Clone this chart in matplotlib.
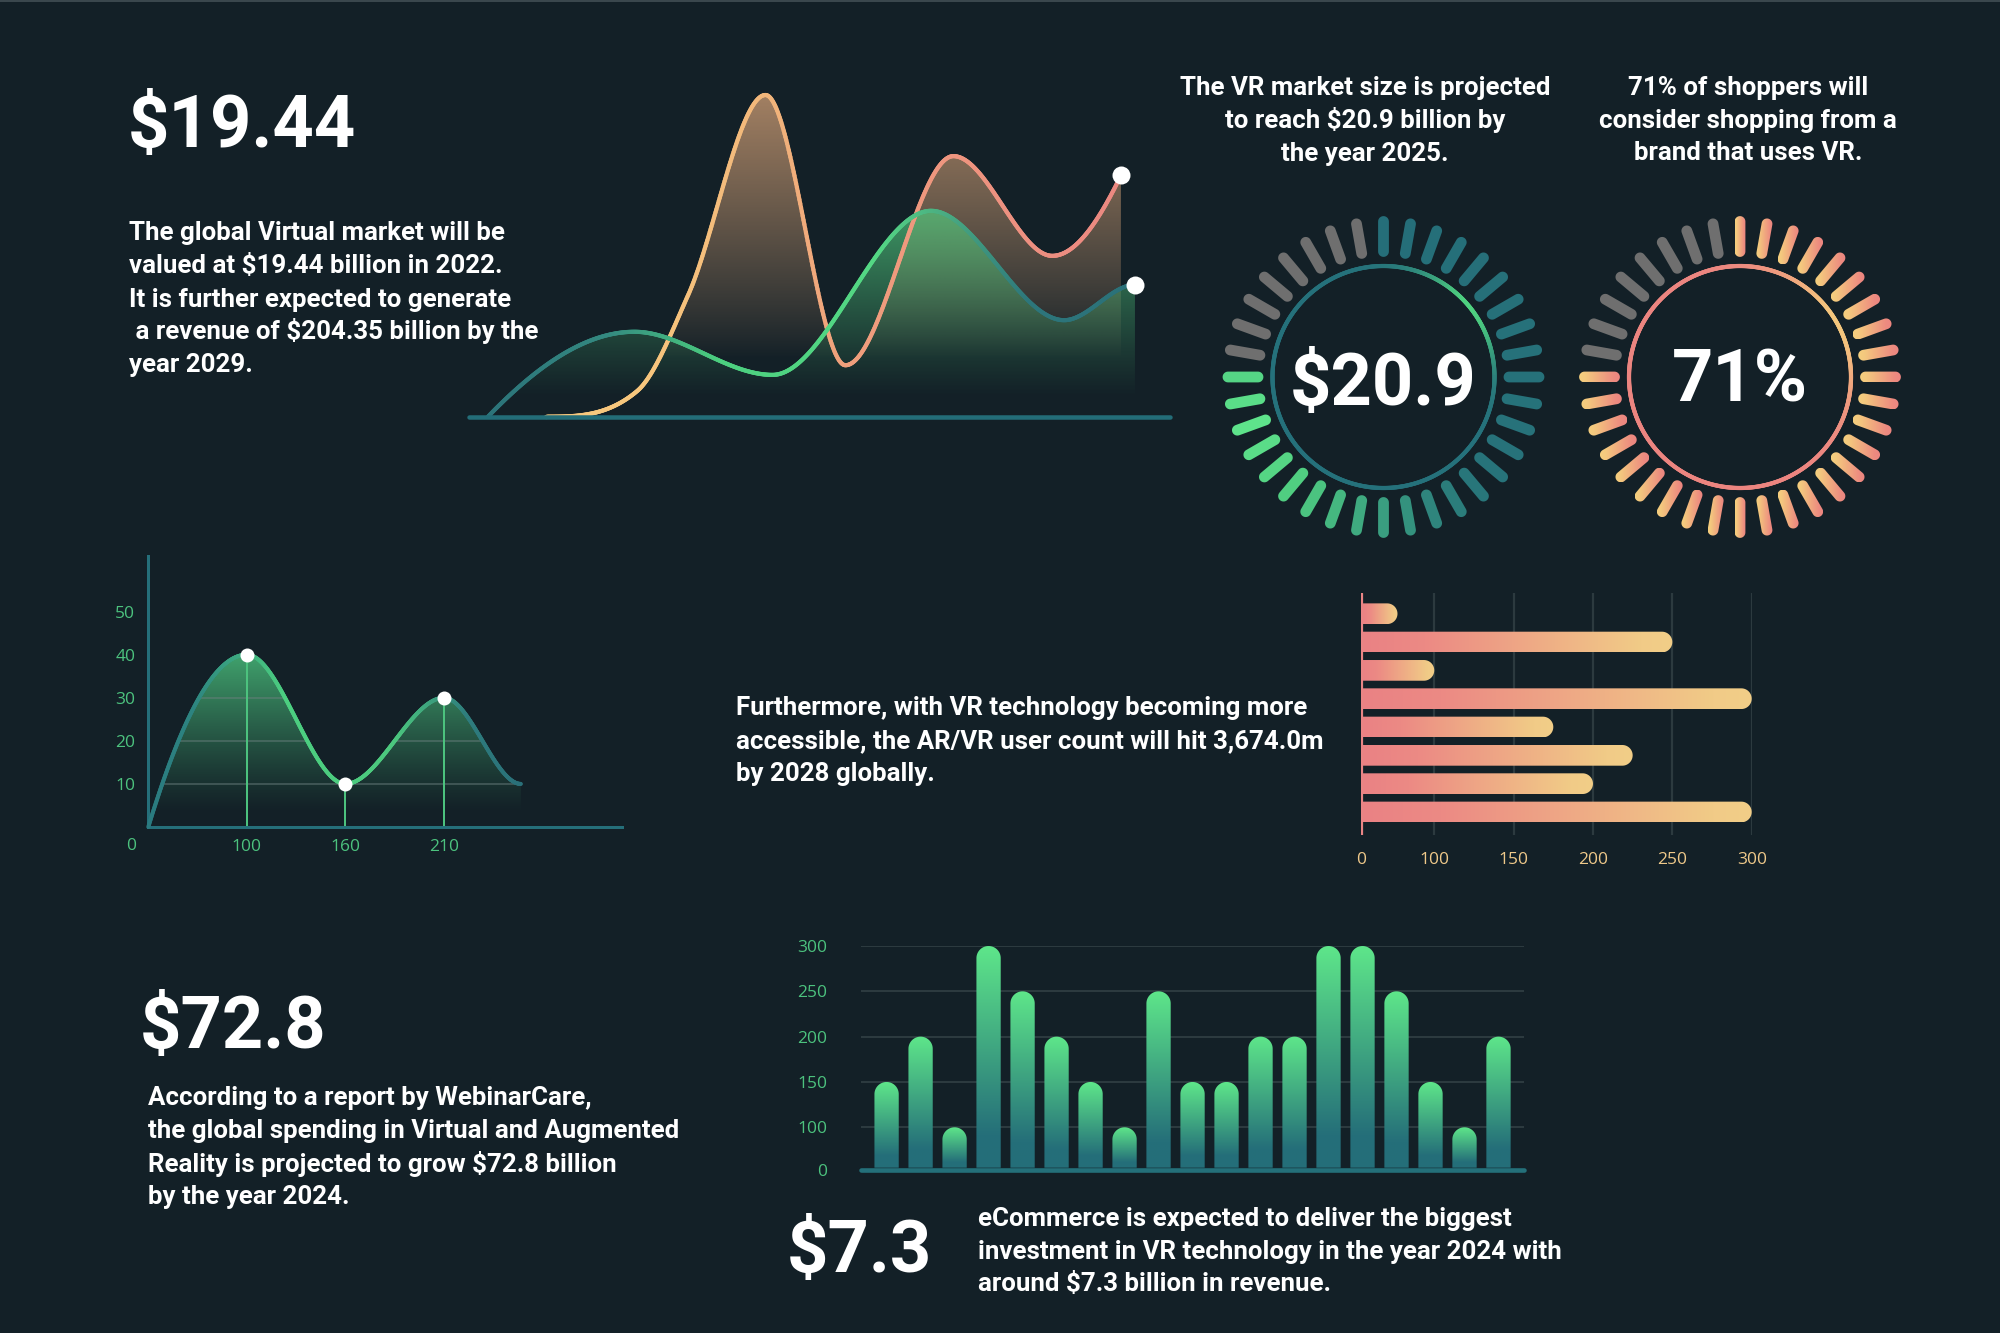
import numpy as np
import matplotlib
matplotlib.use("Agg")
import matplotlib.pyplot as plt
from matplotlib.collections import LineCollection
from matplotlib.patches import Polygon, PathPatch, Rectangle
from matplotlib.path import Path
from matplotlib.colors import to_rgb
import matplotlib.transforms as mtransforms

W, H, DPI = 2000, 1333, 100
BG = "#132027"
TEAL = "#24707a"
GREEN = "#5ee68a"
LBL_GREEN = "#4cc27e"
SALMON = "#ec8580"
YELLOW = "#f3cd87"
LBL_YELLOW = "#efc98a"
GRAY = "#6f6f6f"
FONT = "Roboto"
TICKFONT = "Open Sans"

# ---------------------------------------------------------------- data
market_value = "$19.44"
market_lines = ["The global Virtual market will be",
                "valued at $19.44 billion in 2022.",
                "It is further expected to generate",
                " a revenue of $204.35 billion by the",
                "year 2029."]
gauge_titles = [["The VR market size is projected", "to reach $20.9 billion by", "the year 2025."],
                ["71% of shoppers will", "consider shopping from a", "brand that uses VR."]]
gauge_labels = ["$20.9", "71%"]
gauge_total_ticks = 36
gauge_active_ticks = [28, 28]

wave_green_x = [2.7, 23.6, 43.3, 65.9, 84.9, 95.0]
wave_green_y = [0, 26.4, 13.0, 64.0, 30.0, 41.0]
wave_orange_x = [11.0, 24.0, 31.3, 42.3, 53.7, 69.1, 83.2, 93.0]
wave_orange_y = [0, 8.0, 38.0, 100.0, 16.0, 81.0, 50.0, 75.0]

users_text = ["Furthermore, with VR technology becoming more",
              "accessible, the AR/VR user count will hit 3,674.0m",
              "by 2028 globally."]
users_x = [0, 1, 2, 3, 3.78]
users_y = [0, 40, 10, 30, 10]
users_marked = [1, 2, 3]
users_xlabels = ["100", "160", "210"]
users_yticks = [10, 20, 30, 40, 50]

hbar_values = [50, 250, 100, 300, 175, 225, 200, 300]
hbar_ticks = [0, 100, 150, 200, 250, 300]

spend_value = "$72.8"
spend_lines = ["According to a report by WebinarCare,",
               "the global spending in Virtual and Augmented",
               "Reality is projected to grow $72.8 billion",
               "by the year 2024."]

vbar_values = [150, 200, 100, 300, 250, 200, 150, 100, 250, 150,
               150, 200, 200, 300, 300, 250, 150, 100, 200]
vbar_ticks = [0, 100, 150, 200, 250, 300]

ecom_value = "$7.3"
ecom_lines = ["eCommerce is expected to deliver the biggest",
              "investment in VR technology in the year 2024 with",
              "around $7.3 billion in revenue."]

# ---------------------------------------------------------------- helpers
fig = plt.figure(figsize=(W / DPI, H / DPI), dpi=DPI, facecolor=BG)


def PT(px):
    return px * 72.0 / DPI


def px_axes(x0, y0, x1, y1):
    ax = fig.add_axes([x0 / W, 1 - y1 / H, (x1 - x0) / W, (y1 - y0) / H])
    ax.set_facecolor("none")
    return ax


def ftext(x, y, s, **kw):
    return fig.text(x / W, 1 - y / H, s, **kw)


def grad_colors(stops, t):
    pos = [s[0] for s in stops]
    cols = np.array([to_rgb(s[1]) for s in stops])
    t = np.clip(np.asarray(t, float), 0, 1)
    return np.stack([np.interp(t, pos, cols[:, i]) for i in range(3)], axis=-1)


def smooth_curve(x, y, n=700, d_start=None, d_end=None):
    """Monotone cubic Hermite rendering of a series (Fritsch-Carlson tangents)."""
    x = np.asarray(x, float)
    y = np.asarray(y, float)
    h = np.diff(x)
    delta = np.diff(y) / h
    m = len(x)
    d = np.zeros(m)
    for k in range(1, m - 1):
        if delta[k - 1] * delta[k] > 0:
            s = 0.5 * (delta[k - 1] + delta[k])
            lim = 3 * min(abs(delta[k - 1]), abs(delta[k]))
            d[k] = np.sign(s) * min(abs(s), lim)

    def endslope(h0, h1, d0, d1):
        s = ((2 * h0 + h1) * d0 - h0 * d1) / (h0 + h1)
        if np.sign(s) != np.sign(d0):
            s = 0.0
        elif np.sign(d0) != np.sign(d1) and abs(s) > abs(3 * d0):
            s = 3 * d0
        return s

    d[0] = endslope(h[0], h[1], delta[0], delta[1]) if d_start is None else d_start
    d[-1] = endslope(h[-1], h[-2], delta[-1], delta[-2]) if d_end is None else d_end
    xs = np.linspace(x[0], x[-1], n)
    idx = np.clip(np.searchsorted(x, xs, side="right") - 1, 0, m - 2)
    t = (xs - x[idx]) / h[idx]
    h00 = 2 * t ** 3 - 3 * t ** 2 + 1
    h10 = t ** 3 - 2 * t ** 2 + t
    h01 = -2 * t ** 3 + 3 * t ** 2
    h11 = t ** 3 - t ** 2
    ys = h00 * y[idx] + h10 * h[idx] * d[idx] + h01 * y[idx + 1] + h11 * h[idx] * d[idx + 1]
    return xs, ys


def gradient_line(ax, xs, ys, colors, lw, z):
    pts = np.column_stack([xs, ys]).reshape(-1, 1, 2)
    segs = np.concatenate([pts[:-1], pts[1:]], axis=1)
    lc = LineCollection(segs, colors=colors[:-1], linewidths=lw, capstyle="round",
                        joinstyle="round", zorder=z, clip_on=False)
    ax.add_collection(lc)


def gradient_fill(ax, xs, ys, rgb, v_lo, v_hi, a_max, z, power=1.0):
    verts = np.vstack([np.column_stack([xs, ys]), [[xs[-1], 0], [xs[0], 0]]])
    poly = Polygon(verts, closed=True, facecolor="none", edgecolor="none",
                   transform=ax.transData)
    ax.add_patch(poly)
    ymax = float(np.max(ys))
    n = 256
    vv = np.linspace(0, ymax, n)
    alpha = np.clip((vv - v_lo) / (v_hi - v_lo), 0, 1) ** power * a_max
    img = np.zeros((n, 2, 4))
    img[..., :3] = rgb
    img[:, :, 3] = alpha[:, None]
    im = ax.imshow(img, extent=[xs.min(), xs.max(), 0, ymax], origin="lower",
                   aspect="auto", zorder=z, interpolation="bilinear")
    im.set_clip_path(poly)
    return poly


BODY = 18.6


def text_lines(x, baselines, lines, size=BODY, ha="left"):
    for yb, s in zip(baselines, lines):
        ftext(x, yb, s, fontsize=size, fontfamily=FONT, fontweight="bold",
              color="white", ha=ha, va="baseline")


# top border line
fig.patches.append(Rectangle((0, 1 - 2.0 / H), 1, 2.0 / H, transform=fig.transFigure,
                             facecolor="#3a474d", edgecolor="none"))

# ---------------------------------------------------------------- texts
BIG = 52
ftext(128, 147.3, market_value, fontsize=BIG, fontfamily=FONT, fontweight="bold",
      color="white", va="baseline")
text_lines(129, [240, 273.3, 306.6, 339.5, 372.3], market_lines)

for cx, lines in zip([1365, 1748], gauge_titles):
    text_lines(cx, [95, 128, 160.5], lines, ha="center")

text_lines(736, [715, 748, 780.5], users_text)

ftext(140, 1048.3, spend_value, fontsize=BIG, fontfamily=FONT, fontweight="bold",
      color="white", va="baseline")
text_lines(147.5, [1105, 1138.3, 1171.6, 1203.8], spend_lines)

ftext(787, 1271.7, ecom_value, fontsize=BIG, fontfamily=FONT, fontweight="bold",
      color="white", va="baseline")
text_lines(978, [1226, 1258.5, 1291], ecom_lines)

# ---------------------------------------------------------------- wave chart (top)
ax1 = px_axes(469, 95, 1170, 416.7)
ax1.set_axis_off()
oxs, oys = smooth_curve(wave_orange_x, wave_orange_y)
gxs, gys = smooth_curve(wave_green_x, wave_green_y, d_end=0.0)
gradient_fill(ax1, oxs, oys, (0.74, 0.57, 0.43), 18, 100, 0.85, 1, power=0.9)
gradient_fill(ax1, gxs, gys, (0.32, 0.80, 0.50), 6, 66, 0.72, 2, power=1.1)
ocol = grad_colors([(0, "#f8cc7f"), (0.25, "#f7c67d"), (0.42, "#f2b77b"),
                    (0.54, "#ef9f7c"), (0.69, "#ee957f"), (1.0, "#ea8582")], oxs / 100)
gradient_line(ax1, oxs, oys, ocol, PT(4.2), 3)
gcol = grad_colors([(0, "#2a6f78"), (0.2, "#348a80"), (0.36, "#4ccf7f"),
                    (0.58, "#54d884"), (0.68, "#4aac82"), (0.8, "#2d767b"),
                    (1.0, "#2a6f78")], gxs / 100)
gradient_line(ax1, gxs, gys, gcol, PT(4.2), 4)
ax1.plot([0, 100], [0, 0], color="#236d78", lw=PT(4.5), solid_capstyle="round",
         zorder=5, clip_on=False)
ax1.plot([wave_orange_x[-1], wave_green_x[-1]], [wave_orange_y[-1], wave_green_y[-1]],
         "o", ms=PT(18), color="white", mec="none", zorder=6, clip_on=False)
ax1.set_xlim(0, 100)
ax1.set_ylim(0, 100)

# ---------------------------------------------------------------- gauges
def capsule(theta, r0, r1, hw, n=16):
    th = np.deg2rad(theta)
    u = np.array([np.cos(th), np.sin(th)])
    nrm = np.array([-np.sin(th), np.cos(th)])
    p0 = r0 * u
    p1 = r1 * u
    a = np.linspace(-np.pi / 2, np.pi / 2, n)
    outer = p1 + hw * (np.outer(np.cos(a), u) + np.outer(np.sin(a), nrm))
    a2 = np.linspace(np.pi / 2, 3 * np.pi / 2, n)
    inner = p0 + hw * (np.outer(np.cos(a2), u) + np.outer(np.sin(a2), nrm))
    verts = np.vstack([outer, inner, outer[:1]])
    codes = [Path.MOVETO] + [Path.LINETO] * (len(verts) - 2) + [Path.CLOSEPOLY]
    return Path(verts, codes)


gauge_centers = [(1383.5, 377), (1740, 377)]
R_IN, R_OUT, HW, R_CIRC = 125.5, 155.5, 5.4, 111
left_stops = [(0, "#55d585"), (0.07, "#5fe48b"), (0.2, "#4ecb80"), (0.33, "#3a9f80"),
              (0.42, "#2d817c"), (0.5, "#27737a"), (1.0, "#256e79")]
for gi, ((cx, cy), label, active) in enumerate(zip(gauge_centers, gauge_labels,
                                                   gauge_active_ticks)):
    axg = px_axes(cx - 180, cy - 180, cx + 180, cy + 180)
    axg.set_axis_off()
    step = 360.0 / gauge_total_ticks
    for j in range(gauge_total_ticks):
        theta = 180 + step * j
        path = capsule(theta, R_IN, R_OUT, HW)
        if j >= active:
            axg.add_patch(PathPatch(path, facecolor=GRAY, edgecolor="none", zorder=2))
            continue
        if gi == 0:
            c = grad_colors(left_stops, j / (active - 1))
            axg.add_patch(PathPatch(path, facecolor=c, edgecolor="none", zorder=2))
        else:
            patch = PathPatch(path, facecolor="none", edgecolor="none", zorder=2)
            axg.add_patch(patch)
            ext = path.get_extents()
            g = grad_colors([(0, "#f5cf7e"), (0.15, "#f4c97e"), (0.85, "#ed8b80"),
                             (1, "#ec8580")], np.linspace(0, 1, 64))
            im = axg.imshow(g[None, :, :], extent=[ext.x0, ext.x1, ext.y0, ext.y1],
                            origin="lower", aspect="auto", zorder=2,
                            interpolation="bilinear")
            im.set_clip_path(patch)
    # inner ring
    ang = np.linspace(0, 360, 721)
    pts = np.column_stack([R_CIRC * np.cos(np.deg2rad(ang)),
                           R_CIRC * np.sin(np.deg2rad(ang))]).reshape(-1, 1, 2)
    segs = np.concatenate([pts[:-1], pts[1:]], axis=1)
    mid = (ang[:-1] + ang[1:]) / 2
    mid = np.where(mid > 220, mid - 360, mid)
    if gi == 0:
        w = np.exp(-((mid - 40) / 30.0) ** 2)
        base, hi = np.array(to_rgb("#25717b")), np.array(to_rgb("#4fd280"))
    else:
        w = np.exp(-((mid - 30) / 40.0) ** 2)
        base, hi = np.array(to_rgb("#ec8580")), np.array(to_rgb("#f4c77d"))
    cols = base[None, :] * (1 - w[:, None]) + hi[None, :] * w[:, None]
    axg.add_collection(LineCollection(segs, colors=cols, linewidths=PT(4.2),
                                      capstyle="round", zorder=3))
    axg.set_xlim(-180, 180)
    axg.set_ylim(-180, 180)
    base_y = 405 if gi == 0 else 402
    ftext(cx, base_y, label, fontsize=52, fontfamily=FONT, fontweight="bold",
          color="white", ha="center", va="baseline")

# ---------------------------------------------------------------- users area chart
ax2 = px_axes(148.3, 556, 622.4, 827)
ux, uy = smooth_curve(users_x, users_y, d_end=0.0)
poly = gradient_fill(ax2, ux, uy, (0.30, 0.77, 0.50), 3, 42, 0.85, 1, power=1.2)
for gv in [10, 20, 30]:
    ln = ax2.plot([0, 4], [gv, gv], color="#6d8080", lw=PT(2), alpha=0.45, zorder=1.5)[0]
    ln.set_clip_path(poly)
ucol = grad_colors([(0, "#2a7a80"), (0.12, "#2d8480"), (0.37, "#4ccf80"),
                    (0.66, "#4cc87e"), (0.86, "#2e7c7d"), (1, "#2a7079")],
                   ux / users_x[-1])
gradient_line(ax2, ux, uy, ucol, PT(4.0), 3)
for i in users_marked:
    ax2.plot([users_x[i], users_x[i]], [0, users_y[i]], color=LBL_GREEN, lw=PT(2.0),
             zorder=2.5)
    ax2.plot(users_x[i], users_y[i], "o", ms=PT(14), color="white", mec="none",
             zorder=5, clip_on=False)
ax2.set_xlim(0, 4.81)
ax2.set_ylim(0, 62.9)
for sp in ["top", "right"]:
    ax2.spines[sp].set_visible(False)
for sp in ["left", "bottom"]:
    ax2.spines[sp].set_color("#256f7a")
    ax2.spines[sp].set_linewidth(PT(3))
ax2.set_yticks(users_yticks)
ax2.set_yticklabels([str(v) for v in users_yticks])
ax2.set_xticks([users_x[i] for i in users_marked])
ax2.set_xticklabels(users_xlabels)
ax2.tick_params(length=0, labelsize=12.5, labelcolor=LBL_GREEN)
ax2.tick_params(axis="y", pad=PT(13))
ax2.tick_params(axis="x", pad=PT(12))
for lab in ax2.get_xticklabels() + ax2.get_yticklabels():
    lab.set_fontfamily(TICKFONT)
ax2.text(0, 0, "0", fontsize=12.5, fontfamily=TICKFONT, color=LBL_GREEN, ha="center",
         va="center", transform=mtransforms.offset_copy(ax2.transData, fig=fig,
                                                          x=PT(-17.5), y=PT(-19.5),
                                                          units="points"))


# ---------------------------------------------------------------- piecewise value scale
def piecewise_scale(k):
    # first 100 units squeezed to k * (one 50-unit step), then linear
    lo = 50.0 * k
    fwd = lambda v: np.where(v <= 100, v * lo / 100.0, lo + (v - 100))
    inv = lambda u: np.where(u <= lo, u * 100.0 / lo, (u - lo) + 100)
    return fwd, inv


# overlay in pixel units, used to paint gradient bars positioned by the bar axes
ov = fig.add_axes([0, 0, 1, 1], zorder=10)
ov.set_facecolor("none")
ov.set_axis_off()


def rounded_bar(x0, y0, x1, y1, horizontal, stops):
    """Gradient bar in display px with a round far end."""
    if horizontal:
        r = (y1 - y0) / 2.0
        yc = (y0 + y1) / 2.0
        xe = max(x1 - r, x0)
        a = np.linspace(-np.pi / 2, np.pi / 2, 40)
        verts = np.vstack([[[x0, y0], [xe, y0]],
                           np.column_stack([xe + r * np.cos(a), yc + r * np.sin(a)]),
                           [[x0, y1], [x0, y0]]])
        g = grad_colors(stops, np.linspace(0, 1, 256))[None, :, :]
    else:
        r = (x1 - x0) / 2.0
        xc = (x0 + x1) / 2.0
        ye = max(y1 - r, y0)
        a = np.linspace(0, np.pi, 40)
        verts = np.vstack([[[x1, y0], [x1, ye]],
                           np.column_stack([xc + r * np.cos(a), ye + r * np.sin(a)]),
                           [[x0, y0], [x1, y0]]])
        g = grad_colors(stops, np.linspace(0, 1, 256))[:, None, :]
    patch = Polygon(verts, closed=True, facecolor="none", edgecolor="none",
                    transform=ov.transData)
    ov.add_patch(patch)
    im = ov.imshow(g, extent=[x0, x1, y0, y1], origin="lower", aspect="auto",
                   interpolation="bilinear", zorder=2)
    im.set_clip_path(patch)


# ---------------------------------------------------------------- horizontal bars
axh = px_axes(1360.7, 592.7, 1751.7, 835.3)
axh.set_xscale("function", functions=piecewise_scale(73.7 / 79.5))
axh.set_xlim(0, 300)
axh.set_ylim(len(hbar_values) - 0.177, -0.742)
for sp in axh.spines.values():
    sp.set_visible(False)
axh.set_xticks(hbar_ticks)
axh.set_xticklabels([str(v) for v in hbar_ticks])
axh.set_yticks([])
axh.tick_params(axis="x", length=0, pad=PT(17), labelsize=12.5, labelcolor=LBL_YELLOW)
for lab in axh.get_xticklabels():
    lab.set_fontfamily(TICKFONT)
axh.set_axisbelow(True)
axh.xaxis.grid(True, color="#2c3a3f", lw=PT(2.2))
axh.axvline(0, color="#e98585", lw=PT(3.2), zorder=4, solid_capstyle="round")

THICK_H = 20.7
hstops = [(0, "#ea8284"), (0.2, "#ec8a84"), (0.9, "#f1cb87"), (1, "#f2ce88")]
for i, v in enumerate(hbar_values):
    x0d, yd = axh.transData.transform((0, i))
    x1d = axh.transData.transform((v, i))[0]
    rounded_bar(x0d + 1.8, yd - THICK_H / 2, x1d, yd + THICK_H / 2, True, hstops)

# ---------------------------------------------------------------- vertical bars
axv = px_axes(861.4, 946, 1524, 1170)
axv.set_yscale("function", functions=piecewise_scale(42.7 / 45.3))
axv.set_ylim(0, 300)
axv.set_xlim(-0.741, len(vbar_values) - 0.25)
for sp in axv.spines.values():
    sp.set_visible(False)
axv.set_yticks(vbar_ticks)
axv.set_yticklabels([str(v) for v in vbar_ticks])
axv.set_xticks([])
axv.tick_params(axis="y", length=0, pad=PT(34), labelsize=12.5, labelcolor=LBL_GREEN)
for lab in axv.get_yticklabels():
    lab.set_fontfamily(TICKFONT)
axv.set_axisbelow(True)
axv.yaxis.grid(True, color="#2c3a3f", lw=PT(2.0))
axv.axhline(0, color=TEAL, lw=PT(4.6), zorder=5, solid_capstyle="round", clip_on=False)

THICK_V = 24.3
vstops = [(0, "#246e79"), (0.15, "#256f79"), (1, "#5ee68a")]
for i, v in enumerate(vbar_values):
    xd, y0d = axv.transData.transform((i, 0))
    y1d = axv.transData.transform((i, v))[1]
    rounded_bar(xd - THICK_V / 2, y0d + 2.3, xd + THICK_V / 2, y1d, False, vstops)

ov.set_xlim(0, W)
ov.set_ylim(0, H)

fig.savefig("out.png", dpi=DPI, facecolor=BG)
